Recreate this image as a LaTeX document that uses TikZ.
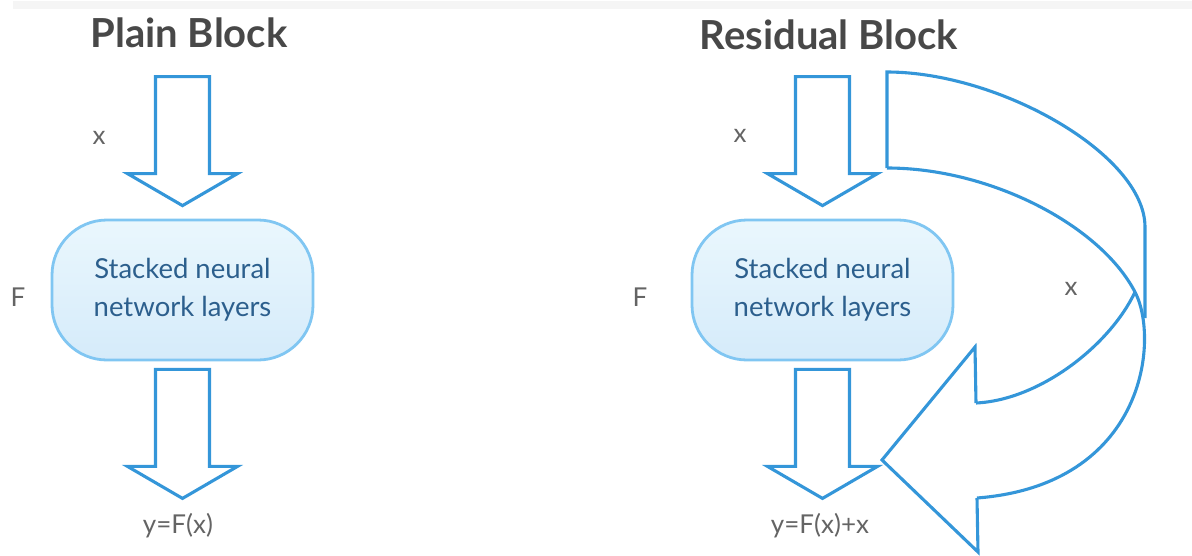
\documentclass[tikz,border=0pt]{standalone}
\usepackage{fontspec}
\setmainfont{Lato}
\usetikzlibrary{calc}
\definecolor{arrowblue}{RGB}{52,150,217}
\definecolor{layerborder}{RGB}{128,198,242}
\definecolor{layertop}{RGB}{234,247,253}
\definecolor{layerbot}{RGB}{213,235,250}
\definecolor{layertext}{RGB}{44,95,141}
\definecolor{labelgray}{RGB}{100,100,100}
\definecolor{titlegray}{RGB}{72,72,72}
\begin{document}
\begin{tikzpicture}[x=1pt,y=-1pt,
  arrowline/.style={draw=arrowblue,line width=3.1pt,line join=miter,fill=white},
  layer/.style={draw=layerborder,line width=2.8pt,rounded corners=55pt,
    top color=layertop,bottom color=layerbot,minimum width=261pt,minimum height=140pt,
    inner sep=0pt,align=center,text=layertext,font=\fontsize{27.5}{38}\selectfont},
  title/.style={text=titlegray,font=\fontsize{40}{44}\selectfont\bfseries},
  lbl/.style={text=labelgray,font=\fontsize{26}{30}\selectfont,inner sep=0pt},
  downarrow/.pic={\draw[arrowline] (-27,0) -- (-27,97) -- (-55,97) -- (0,129) -- (55,97) -- (27,97) -- (27,0) -- cycle;}
]
\useasboundingbox (0,0) rectangle (1192,555);
\fill[black!4] (13,1) rectangle (1192,9);

% Plain block
\node[title] (t1) at (189,33) {Plain Block};
\node[layer] (n1) at (182.5,290) {Stacked neural\\network layers};
\pic at ([yshift=142pt]n1.north) {downarrow};
\pic at ([yshift=-8pt]n1.south) {downarrow};
\node[lbl] (x1) at (99,138) {x};
\node[lbl] (f1) at (18,297) {F};
\node[lbl] (y1) at (178,526) {y=F(x)};

% Residual block
\node[title] (t2) at (829,35) {Residual Block};
\node[layer] (n2) at (822.5,290) {Stacked neural\\network layers};
\pic at ([yshift=142pt]n2.north) {downarrow};
\pic at ([yshift=-8pt]n2.south) {downarrow};
\node[lbl] (x2) at (740,136) {x};
\node[lbl] (f2) at (640,297) {F};
\node[lbl] (y2) at (820,526) {y=F(x)+x};

% curved shortcut arrow
\coordinate (A1) at (887,72);
\coordinate (A2) at (887,168);
\coordinate (R1) at (1145,227);
\coordinate (R2) at (1145,318);
\coordinate (X) at (1135,292);
\coordinate (N1) at (977,498);
\coordinate (N2) at (976,403);
\coordinate (W1) at (975,347);
\coordinate (W2) at (978,552);
\coordinate (T) at (882,460);
\draw[arrowline,fill=none] (A2) -- (A1) .. controls (1000,72) and (1145,155) .. (R1) -- (R2);
\draw[arrowline,fill=none] (A2) .. controls (990,168) and (1100,225) .. (X)
   .. controls (1160,340) and (1145,485) .. (N1);
\draw[arrowline,fill=none] (X) .. controls (1110,345) and (1040,400) .. (N2);
\draw[arrowline,fill=none] (N2) -- (W1) -- (T) -- (W2) -- (N1);
\node[lbl] (x3) at (1071,289) {x};
\end{tikzpicture}
\end{document}
